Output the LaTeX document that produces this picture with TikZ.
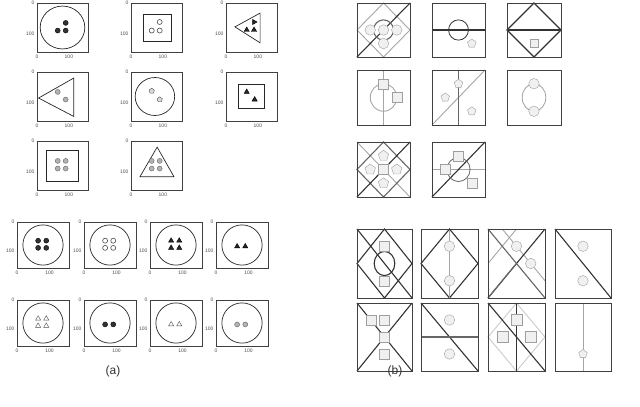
\documentclass[tikz,border=0pt]{standalone}
\usepackage{fontspec}
\setmainfont{Liberation Sans}
\usetikzlibrary{shapes.geometric}
\tikzset{
 frame/.style={draw=black!75,line width=0.5pt},
 big/.style={draw=black!85,line width=0.7pt},
 gl/.style={draw=gray!70,line width=0.9pt},
 dl/.style={draw=black!80,line width=1.1pt},
 gdot/.style={circle,draw=black!60,fill=gray!60,inner sep=0,minimum size=5pt},
 bdot/.style={circle,draw=black,fill=black!80,inner sep=0,minimum size=5pt},
 odot/.style={circle,draw=black!70,fill=white,line width=0.6pt,inner sep=0,minimum size=5pt},
 btri/.style={regular polygon,regular polygon sides=3,fill=black!85,draw=black,inner sep=0,minimum size=6pt},
 otri/.style={regular polygon,regular polygon sides=3,fill=white,draw=black!70,inner sep=0,minimum size=6pt},
 gpent/.style={regular polygon,regular polygon sides=5,fill=gray!30,draw=black!70,inner sep=0,minimum size=5.5pt},
 bpent/.style={regular polygon,regular polygon sides=5,fill=gray!12,draw=gray!75,inner sep=0,minimum size=11pt},
 bsq/.style={rectangle,fill=gray!12,draw=gray!75,inner sep=0,minimum size=10pt},
 bcir/.style={circle,fill=gray!12,draw=gray!75,inner sep=0,minimum size=10.5pt},
 tick/.style={font=\fontsize{5}{5}\selectfont,text=black!70,inner sep=1pt},
 lab/.style={font=\fontsize{12}{13}\selectfont,text=black!80}
}
\newcommand\pan[5]{\pgfmathsetmacro\sx{#3/160}\pgfmathsetmacro\sy{#4/160}%
 \begin{scope}[shift={(#1,#2)},x=\sx pt,y=-\sy pt]
 \fill[white] (0,0) rectangle (160,160);
 #5
 \draw[frame] (0,0) rectangle (160,160);
 \end{scope}}
\newcommand\apan[5]{\pgfmathsetmacro\sx{#3/160}\pgfmathsetmacro\sy{#4/160}%
 \begin{scope}[shift={(#1,#2)},x=\sx pt,y=-\sy pt]
 #5
 \draw[frame] (0,0) rectangle (160,160);
 \node[tick,anchor=east] at (-4,0) {0};
 \node[tick,anchor=east] at (-4,100) {100};
 \node[tick,anchor=north] at (0,166) {0};
 \node[tick,anchor=north] at (100,166) {100};
 \end{scope}}
\newcommand\four[1]{\node[#1] at (65,65){};\node[#1] at (90,65){};\node[#1] at (65,90){};\node[#1] at (90,90){};}
\newcommand\two[1]{\node[#1] at (65,85){};\node[#1] at (90,85){};}
\newcommand\ovl{\draw[big] (80,80) ellipse (62 and 70);}
\begin{document}
\begin{tikzpicture}[x=1pt,y=-1pt]
\useasboundingbox (0,0) rectangle (640,407);
% (a) top rows
\apan{37}{3}{51}{49}{\draw[big](80,80) circle (70);\node[bdot] at (90,65){};\node[bdot] at (65,90){};\node[bdot] at (90,90){};}
\apan{131}{3}{51}{49}{\draw[big](38,38) rectangle (126,126);\node[odot] at (90,62){};\node[odot] at (65,90){};\node[odot] at (90,90){};}
\apan{226}{3}{51}{49}{\draw[big](28,78)--(107,33)--(107,130)--cycle;\node[btri,rotate=30] at (88,62){};\node[btri] at (65,88){};\node[btri] at (88,88){};}
\apan{37}{72}{51}{49}{\draw[big](5,85)--(115,20)--(115,145)--cycle;\node[gdot] at (65,65){};\node[gdot] at (90,90){};}
\apan{131}{72}{51}{49}{\draw[big](75,80) circle (62);\node[gpent] at (65,62){};\node[gpent] at (90,90){};}
\apan{226}{72}{51}{49}{\draw[big](40,40) rectangle (120,120);\node[btri] at (65,65){};\node[btri] at (90,90){};}
\apan{37}{141}{51}{49}{\draw[big,line width=1.2pt](30,30) rectangle (130,132);\four{gdot}}
\apan{131}{141}{51}{49}{\draw[big](82,20)--(28,117)--(135,117)--cycle;\four{gdot}}
% (a) bottom rows
\apan{17}{222}{52}{46}{\ovl\four{bdot}}
\apan{84}{222}{52}{46}{\ovl\four{odot}}
\apan{150}{222}{52}{46}{\ovl\four{btri}}
\apan{216}{222}{52}{46}{\ovl\two{btri}}
\apan{17}{300}{52}{46}{\ovl\four{otri}}
\apan{84}{300}{52}{46}{\ovl\two{bdot}}
\apan{150}{300}{52}{46}{\ovl\two{otri}}
\apan{216}{300}{52}{46}{\ovl\two{gdot}}
% (b) top
\pan{357}{3}{53}{54}{\draw[gl](80,0)--(160,80)--(80,160)--(0,80)--cycle;\draw[dl](0,160)--(160,0);\draw[dl,draw=black!60](80,80) circle (30);
 \node[bcir] at (40,80){};\node[bcir] at (80,80){};\node[bcir] at (120,80){};\node[bcir] at (80,120){};}
\pan{432}{3}{53}{54}{\draw[dl](0,80)--(160,80);\draw[dl,line width=0.8pt](80,80) circle (30);\node[bpent,minimum size=9pt] at (120,120){};}
\pan{507}{3}{54}{54}{\draw[dl](80,0)--(160,80)--(80,160)--(0,80)--cycle;\draw[dl](0,80)--(160,80);\node[bsq,minimum size=8pt] at (80,120){};}
\pan{357}{70}{53}{55}{\draw[gl](80,0)--(80,160);\draw[gl](80,80) circle (40);\node[bsq] at (80,40){};\node[bsq] at (120,80){};}
\pan{432}{70}{53}{55}{\draw[gl](0,160)--(160,0);\draw[dl,draw=black!60](80,0)--(80,160);\node[bpent,minimum size=9pt] at (40,80){};\node[bpent,minimum size=9pt] at (80,40){};\node[bpent,minimum size=9pt] at (120,120){};}
\pan{507}{70}{54}{55}{\draw[gl](80,80) ellipse (35 and 40);\node[bcir] at (80,40){};\node[bcir] at (80,120){};}
\pan{357}{142}{53}{55}{\draw[gl](0,0)--(160,160);\draw[dl,draw=black!60](80,0)--(160,80)--(80,160)--(0,80)--cycle;\draw[dl](0,160)--(160,0);
 \node[bpent] at (80,40){};\node[bpent] at (40,80){};\node[bsq] at (80,80){};\node[bpent] at (120,80){};\node[bpent] at (80,120){};}
\pan{432}{142}{53}{55}{\draw[gl](0,80)--(160,80);\draw[dl](0,160)--(160,0);\draw[dl,draw=black!60,line width=0.8pt](80,80) circle (35);
 \node[bsq] at (80,40){};\node[bsq] at (40,80){};\node[bsq] at (120,120){};}
% (b) bottom
\pan{357}{229}{55}{69}{\draw[dl](80,0)--(160,80)--(80,160)--(0,80)--cycle;\draw[dl](0,0)--(160,160);\draw[dl](80,80) ellipse (30 and 28);\node[bsq] at (80,40){};\node[bsq] at (80,120){};}
\pan{421}{229}{57}{69}{\draw[dl](80,0)--(160,80)--(80,160)--(0,80)--cycle;\draw[gl](80,0)--(80,160);\node[bcir] at (80,40){};\node[bcir] at (80,120){};}
\pan{488}{229}{57}{69}{\draw[gl](40,0)--(160,120);\draw[gl](0,80)--(80,0);\draw[dl](0,160)--(160,0);\draw[dl,draw=black!60](0,0)--(160,160);\draw[dl,draw=black!60](0,160)--(80,80);
 \node[bcir] at (80,40){};\node[bcir] at (120,80){};}
\pan{555}{229}{56}{69}{\draw[dl](0,0)--(160,160);\draw[gl](0,0)--(160,0);\node[bcir] at (80,40){};\node[bcir] at (80,120){};}
\pan{357}{303}{55}{68}{\draw[dl](0,0)--(160,160);\draw[dl](160,0)--(0,160);\draw[gl](0,0)--(160,0);
 \node[bsq] at (40,40){};\node[bsq] at (80,40){};\node[bsq] at (80,80){};\node[bsq] at (80,120){};}
\pan{421}{303}{57}{68}{\draw[dl](0,0)--(160,160);\draw[dl,draw=black!60](0,80)--(160,80);\node[bcir] at (80,40){};\node[bcir] at (80,120){};}
\pan{488}{303}{57}{68}{\draw[gl,draw=gray!40](80,0)--(160,80)--(80,160)--(0,80)--cycle;\draw[dl](0,0)--(160,160);\draw[dl](80,0)--(80,160);
 \node[bsq,minimum size=11pt] at (80,40){};\node[bsq,minimum size=11pt] at (40,80){};\node[bsq,minimum size=11pt] at (120,80){};}
\pan{555}{303}{56}{68}{\draw[gl](80,0)--(80,160);\draw[gl](0,0)--(160,0);\node[bpent,minimum size=9pt] at (80,120){};}
\node[lab] (la) at (113,371) {(a)};
\node[lab] (lb) at (395,371) {(b)};
\end{tikzpicture}
\end{document}
